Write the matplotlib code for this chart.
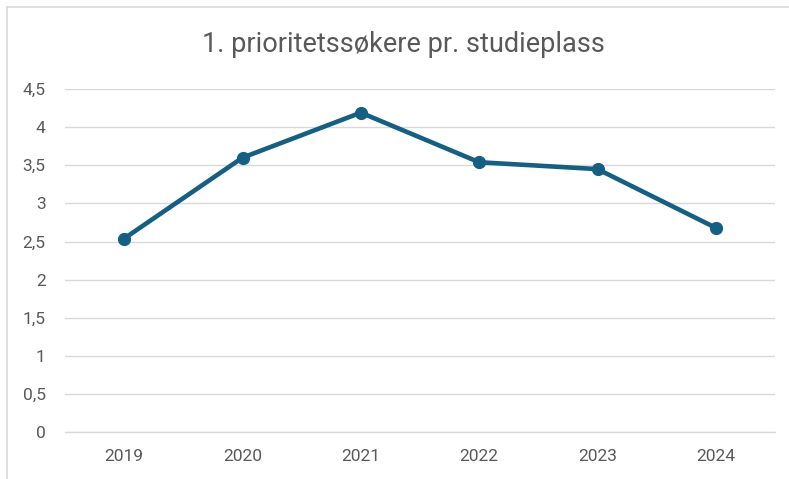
import matplotlib
matplotlib.use("Agg")
import matplotlib.pyplot as plt
from matplotlib.lines import Line2D

years = ["2019", "2020", "2021", "2022", "2023", "2024"]
values = [2.54, 3.60, 4.19, 3.54, 3.45, 2.68]
yticks = [0, 0.5, 1, 1.5, 2, 2.5, 3, 3.5, 4, 4.5]
ytick_labels = ["0", "0,5", "1", "1,5", "2", "2,5", "3", "3,5", "4", "4,5"]
title = "1. prioritetssøkere pr. studieplass"

plt.rcParams['font.family'] = ['Roboto', 'DejaVu Sans']
W, H = 789, 479
fig = plt.figure(figsize=(W/100, H/100), dpi=100)
ax = fig.add_axes([65/W, 1-432.3/H, 710/W, (432.3-89)/H])

text_color = "#595959"
line_color = "#156082"

x = list(range(len(years)))
ax.plot(x, values, color=line_color, linewidth=3.3, marker="o", markersize=8.5,
        solid_joinstyle="round", solid_capstyle="round", zorder=3)

ax.set_xlim(-0.5, len(years)-0.5)
ax.set_ylim(0, 4.5)
ax.set_yticks(yticks)
ax.set_yticklabels(ytick_labels)
ax.set_xticks(x)
ax.set_xticklabels(years)
ax.grid(axis="y", color="#d9d9d9", linewidth=1.0)
ax.set_axisbelow(True)
for s in ["top", "right", "left"]:
    ax.spines[s].set_visible(False)
ax.spines["bottom"].set_color("#d9d9d9")
ax.spines["bottom"].set_linewidth(1.0)
ax.tick_params(axis="both", length=0, labelsize=12.5, colors=text_color)
ax.tick_params(axis="y", pad=14)
ax.tick_params(axis="x", pad=12)

fig.text(403/W, 1-45/H, title, ha="center", va="center", fontsize=19.5, color=text_color)

# chart border (top and left visible)
fig.add_artist(Line2D([7/W, 7/W], [0, 1-7/H], transform=fig.transFigure, color="#d9d9d9", linewidth=1.2))
fig.add_artist(Line2D([7/W, 1], [1-7/H, 1-7/H], transform=fig.transFigure, color="#d9d9d9", linewidth=1.2))

fig.savefig("out.png", dpi=100)
